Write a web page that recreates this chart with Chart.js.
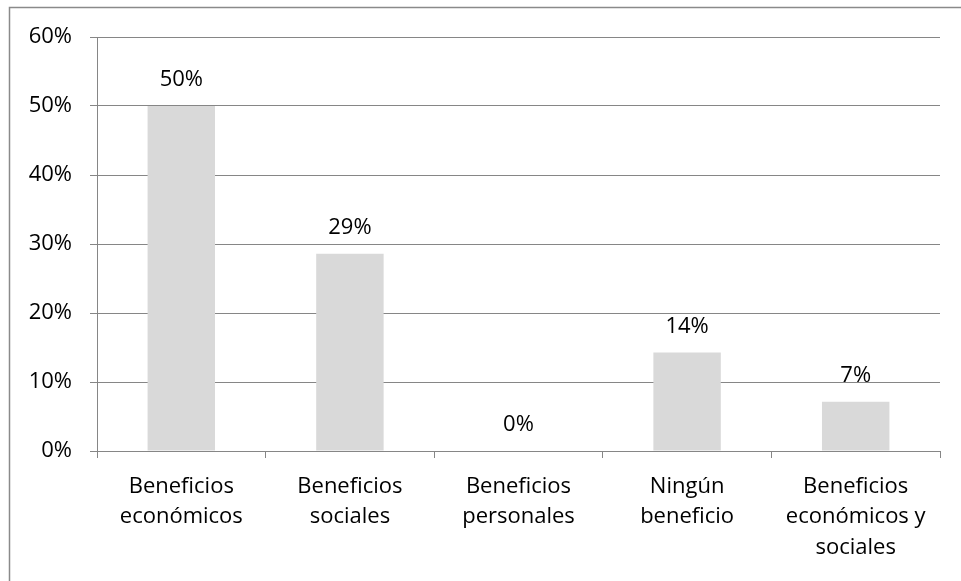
<!DOCTYPE html>
<html>
<head>
  <meta charset="utf-8">
  <title>Beneficios</title>
  <script src="https://cdn.jsdelivr.net/npm/chart.js"></script>
  <style>
    body { margin: 0; background: #fff; }
    #wrap { width: 961px; height: 581px; position: relative; }
  </style>
</head>
<body>
  <div id="wrap"><canvas id="chart"></canvas></div>
  <script>
    const categories = [
      ["Beneficios", "económicos"],
      ["Beneficios", "sociales"],
      ["Beneficios", "personales"],
      ["Ningún", "beneficio"],
      ["Beneficios", "económicos y", "sociales"]
    ];
    const values = [50, 28.57, 0, 14.29, 7.14];
    const valueLabels = ["50%", "29%", "0%", "14%", "7%"];

    const FONT = "'Open Sans', 'Noto Sans', sans-serif";
    const gridColor = "#868686";

    // frame lines (top and left) around the chart
    const framePlugin = {
      id: "frame",
      beforeDraw(chart) {
        const c = chart.ctx;
        c.save();
        c.strokeStyle = "#8a8a8a";
        c.lineWidth = 1.5;
        c.beginPath();
        c.moveTo(9.5, 581);
        c.lineTo(9.5, 7.5);
        c.lineTo(961, 7.5);
        c.stroke();
        c.restore();
      }
    };

    // value labels above each bar
    const labelPlugin = {
      id: "valueLabels",
      afterDatasetsDraw(chart) {
        const c = chart.ctx;
        const meta = chart.getDatasetMeta(0);
        c.save();
        c.fillStyle = "#000";
        c.font = "22px " + FONT;
        c.textAlign = "center";
        c.textBaseline = "middle";
        meta.data.forEach((bar, i) => {
          c.fillText(valueLabels[i], bar.x, bar.y - 26);
        });
        c.restore();
      }
    };

    new Chart(document.getElementById("chart"), {
      type: "bar",
      data: {
        labels: categories,
        datasets: [{
          data: values,
          backgroundColor: "#d9d9d9",
          barPercentage: 0.4,
          categoryPercentage: 1.0
        }]
      },
      options: {
        responsive: true,
        maintainAspectRatio: false,
        animation: false,
        layout: { padding: { left: 0, right: 21, top: 37, bottom: 0 } },
        plugins: { legend: { display: false }, tooltip: { enabled: false } },
        scales: {
          x: {
            grid: { offset: true, drawOnChartArea: false, drawTicks: true, tickLength: 7, color: gridColor },
            border: { color: gridColor, width: 1 },
            ticks: { color: "#000", font: { family: FONT, size: 22, lineHeight: 1.4 }, padding: 13, maxRotation: 0, autoSkip: false },
            afterFit(scale) { scale.height = 130; }
          },
          y: {
            min: 0,
            max: 60,
            grid: { color: gridColor, tickLength: 7 },
            border: { color: gridColor, width: 1 },
            ticks: { stepSize: 10, color: "#000", font: { family: FONT, size: 22 }, padding: 18, callback: v => v + "%" },
            afterFit(scale) { scale.width = 97; }
          }
        }
      },
      plugins: [framePlugin, labelPlugin]
    });
  </script>
</body>
</html>
